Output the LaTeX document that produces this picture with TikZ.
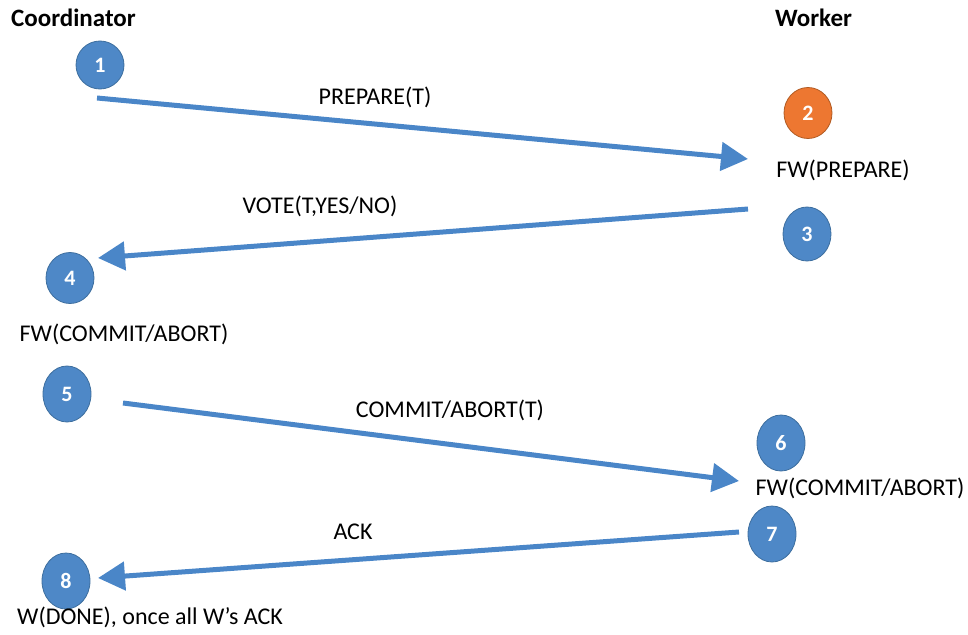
\documentclass[tikz,border=0pt]{standalone}
\usepackage{fontspec}
\setmainfont{Carlito}
\usetikzlibrary{arrows.meta,shapes.geometric}
\definecolor{stepblue}{HTML}{4E88C7}
\definecolor{stepblueline}{HTML}{3D6E9E}
\definecolor{steporange}{HTML}{ED7731}
\definecolor{steporangeline}{HTML}{B05A22}
\definecolor{msgblue}{HTML}{4A86C8}
\tikzset{
  stepnum/.style={ellipse, fill=stepblue, draw=stepblueline, line width=0.8pt,
    minimum width=48pt, minimum height=54pt, inner sep=0pt,
    text=white, font=\fontsize{22}{24}\selectfont\bfseries},
  orangenum/.style={stepnum, fill=steporange, draw=steporangeline},
  lbl/.style={inner sep=0pt, font=\fontsize{24}{28}\selectfont, text=black},
  head/.style={lbl, font=\fontsize{25}{28}\selectfont\bfseries, anchor=west},
  msg/.style={draw=msgblue, line width=5pt,
    -{Triangle[length=27pt,width=28pt]}, shorten >=0pt}
}
\begin{document}
\begin{tikzpicture}[x=1pt,y=-1pt]
\useasboundingbox (0,0) rectangle (968,634);
% headers
\node[head] (coord) at (11,18) {Coordinator};
\node[head] (work) at (775,18) {Worker};
% steps
\node[stepnum, minimum height=48pt] (s1) at (100,65) {1};
\node[orangenum, minimum height=51pt] (s2) at (808,113) {2};
\node[stepnum] (s3) at (807,234) {3};
\node[stepnum, minimum height=51pt] (s4) at (70,278) {4};
\node[stepnum, minimum height=56pt] (s5) at (67,394) {5};
\node[stepnum, minimum height=56pt] (s6) at (781,443) {6};
\node[stepnum, minimum height=56pt] (s7) at (772,534) {7};
\node[stepnum, minimum height=56pt] (s8) at (66,581) {8};
% state labels
\node[lbl] (fwprep) at (843,170) {FW(PREPARE)};
\node[lbl] (fwcl) at (124,334) {FW(COMMIT/ABORT)};
\node[lbl] (fwcr) at (860,488) {FW(COMMIT/ABORT)};
\node[lbl, anchor=west] (done) at (17,617) {W(DONE), once all W’s ACK};
% message labels
\node[lbl] (lprep) at (375,97) {PREPARE(T)};
\node[lbl] (lvote) at (320,206) {VOTE(T,YES/NO)};
\node[lbl] (lcomm) at (450,410) {COMMIT/ABORT(T)};
\node[lbl] (lack) at (353,532) {ACK};
% arrow ends
\coordinate (a1s) at (97,98);
\coordinate (a1e) at (748,159);
\coordinate (a2s) at (748,209);
\coordinate (a2e) at (98,258);
\coordinate (a3s) at (123,403);
\coordinate (a3e) at (739,481);
\coordinate (a4s) at (739,532);
\coordinate (a4e) at (98,578);
\draw[msg] (a1s) -- (a1e);
\draw[msg] (a2s) -- (a2e);
\draw[msg] (a3s) -- (a3e);
\draw[msg] (a4s) -- (a4e);
\end{tikzpicture}
\end{document}
